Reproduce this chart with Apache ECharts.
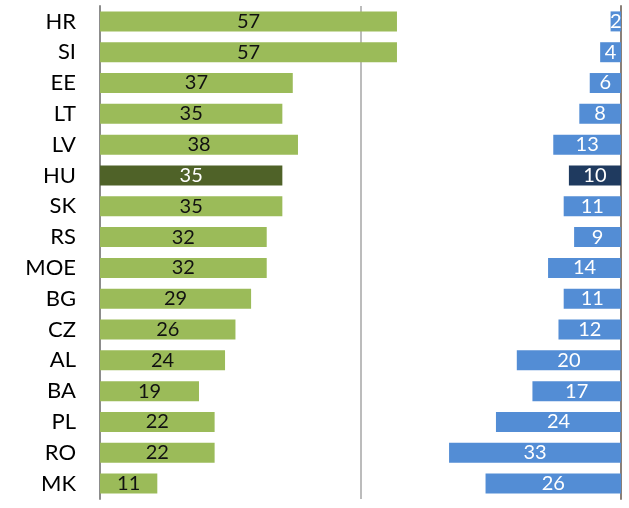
<!DOCTYPE html>
<html><head><meta charset="utf-8">
<script src="https://cdn.jsdelivr.net/npm/echarts@6/dist/echarts.min.js"></script>
<style>html,body{margin:0;padding:0;background:#fff}#c{width:629px;height:508px}</style>
</head><body><div id="c"></div>
<script>
const categories = ["HR","SI","EE","LT","LV","HU","SK","RS","MOE","BG","CZ","AL","BA","PL","RO","MK"];
const greenValues = [57,57,37,35,38,35,35,32,32,29,26,24,19,22,22,11];
const blueValues = [2,4,6,8,13,10,11,9,14,11,12,20,17,24,33,26];
const highlight = "HU";

const FONT = "Lato";
const chart = echarts.init(document.getElementById('c'));
chart.setOption({
  animation: false,
  grid: {left: 100, right: 8, top: 6, bottom: 9},
  xAxis: [
    {type:'value', min:0, max:100, interval:50, axisLabel:{show:false}, axisTick:{show:false}, axisLine:{show:false},
     splitLine:{show:true, lineStyle:{color:'#a6a6a6', width:1.5}}},
    {type:'value', min:0, max:100, inverse:true, show:false}
  ],
  yAxis: [
    {type:'category', data: categories, inverse:true, axisTick:{show:false},
     axisLine:{show:true, lineStyle:{color:'#8c8c8c', width:2}},
     axisLabel:{margin:24, color:'#000', fontFamily:FONT, fontSize:22}},
    {type:'category', data: categories, inverse:true, position:'right', axisTick:{show:false},
     axisLine:{show:true, lineStyle:{color:'#8a7f78', width:2}}, axisLabel:{show:false}}
  ],
  series: [
    {type:'bar', xAxisIndex:0, yAxisIndex:0, barWidth:20,
     data: greenValues.map((v,i)=>({value:v, itemStyle:{color: categories[i]===highlight?'#4f6228':'#9bbb59'},
        label:{color: categories[i]===highlight?'#fff':'#111'}})),
     label:{show:true, position:'inside', fontFamily:FONT, fontSize:20}},
    {type:'bar', xAxisIndex:1, yAxisIndex:0, barWidth:20, barGap:'-100%',
     data: blueValues.map((v,i)=>({value:v, itemStyle:{color: categories[i]===highlight?'#1f3a5f':'#538dd5'}})),
     label:{show:true, position:'inside', color:'#fff', fontFamily:FONT, fontSize:20}}
  ]
});
</script></body></html>
